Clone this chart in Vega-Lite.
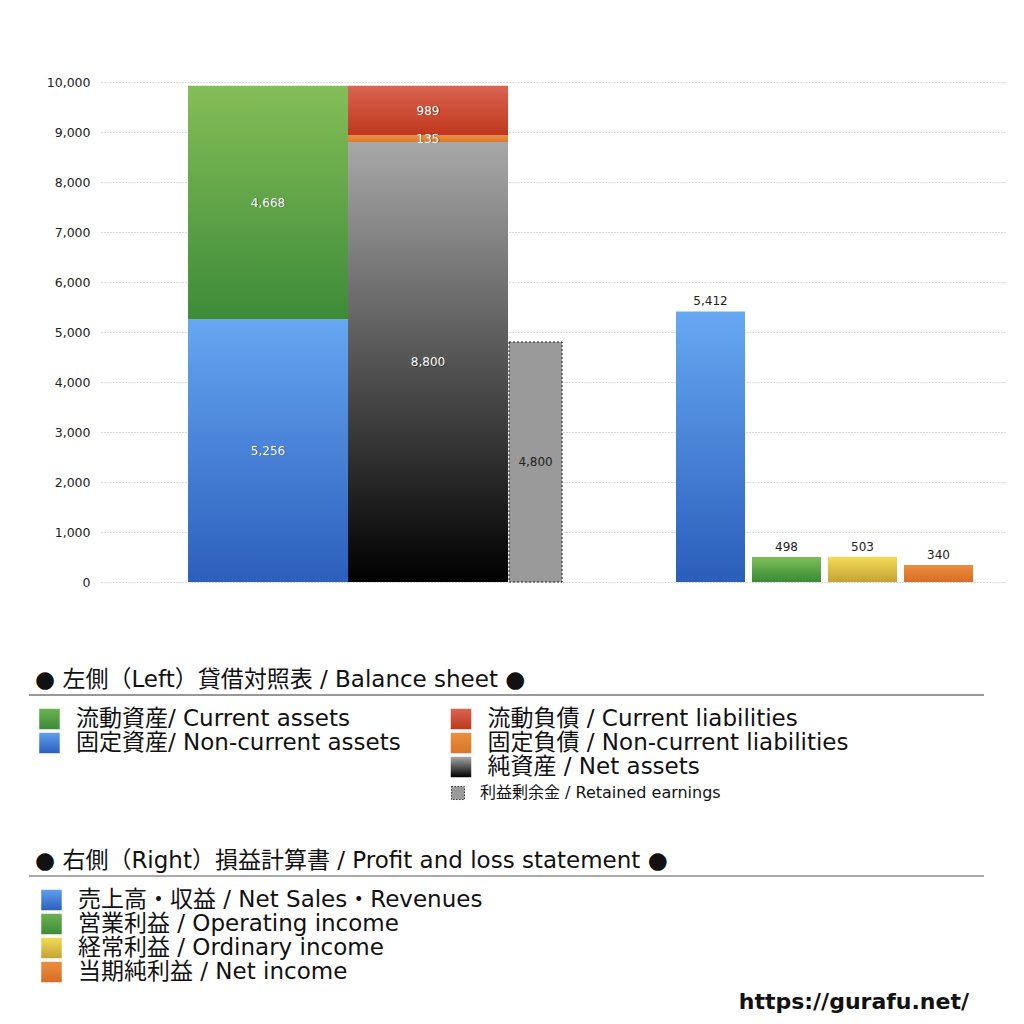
{
  "$schema": "https://vega.github.io/schema/vega-lite/v6.json",
  "description": "Balance sheet and profit and loss statement",
  "background": "white",
  "padding": {"left": 28, "top": 76, "right": 0, "bottom": 0},
  "spacing": 80,
  "title": {"text": "https://gurafu.net/", "orient": "bottom", "anchor": "end", "frame": "bounds", "fontSize": 22, "fontWeight": "bold", "font": "DejaVu Sans", "color": "#111", "dx": -37, "offset": 8},
  "datasets": {
    "bs": [
      {"bar": "資産", "item": "固定資産", "value": 5256},
      {"bar": "資産", "item": "流動資産", "value": 4668},
      {"bar": "負債・純資産", "item": "純資産", "value": 8800},
      {"bar": "負債・純資産", "item": "固定負債", "value": 135},
      {"bar": "負債・純資産", "item": "流動負債", "value": 989}
    ],
    "re": [{"bar": "利益剰余金", "item": "利益剰余金", "value": 4800}],
    "pl": [
      {"item": "売上高・収益", "value": 5412},
      {"item": "営業利益", "value": 498},
      {"item": "経常利益", "value": 503},
      {"item": "当期純利益", "value": 340}
    ],
    "leg1": [
      {"key": "流動資産", "col": 0, "row": 1, "label": "流動資産/ Current assets"},
      {"key": "固定資産", "col": 0, "row": 2, "label": "固定資産/ Non-current assets"},
      {"key": "流動負債", "col": 1, "row": 1, "label": "流動負債 /  Current liabilities"},
      {"key": "固定負債", "col": 1, "row": 2, "label": "固定負債 / Non-current liabilities"},
      {"key": "純資産", "col": 1, "row": 3, "label": "純資産 / Net assets"},
      {"key": "利益剰余金", "col": 1, "row": 4, "label": "利益剰余金 / Retained earnings"}
    ],
    "leg2": [
      {"key": "売上高・収益", "col": 0, "row": 1, "label": "売上高・収益 / Net Sales・Revenues"},
      {"key": "営業利益", "col": 0, "row": 2, "label": "営業利益 / Operating income"},
      {"key": "経常利益", "col": 0, "row": 3, "label": "経常利益 / Ordinary income"},
      {"key": "当期純利益", "col": 0, "row": 4, "label": "当期純利益 / Net income"}
    ]
  },
  "vconcat": [
    {
      "width": 905,
      "height": 500,
      "layer": [
        {
          "encoding": {
            "x": {"field": "bar", "type": "nominal", "sort": null, "axis": null,
              "scale": {"domain": ["資産", "負債・純資産", "利益剰余金", " ", "  "], "paddingInner": 0, "paddingOuter": 0.328, "align": 0.829}}
          },
          "layer": [
            {
              "data": {"name": "bs"},
              "transform": [
                {"stack": "value", "groupby": ["bar"], "as": ["y0", "y1"]},
                {"calculate": "(datum.y0 + datum.y1) / 2", "as": "mid"}
              ],
              "encoding": {
                "y": {"field": "y1", "type": "quantitative", "scale": {"domain": [0, 10000]}, "title": null},
                "y2": {"field": "y0"}
              },
              "layer": [
                {"transform": [{"filter": "datum.item === '固定資産'"}],
                  "mark": {"type": "bar", "fill": {"gradient": "linear", "x1": 0, "y1": 0, "x2": 0, "y2": 1, "stops": [{"offset": 0, "color": "#66a6f2"}, {"offset": 1, "color": "#2c5fbc"}]}}},
                {"transform": [{"filter": "datum.item === '流動資産'"}],
                  "mark": {"type": "bar", "fill": {"gradient": "linear", "x1": 0, "y1": 0, "x2": 0, "y2": 1, "stops": [{"offset": 0, "color": "#84be58"}, {"offset": 1, "color": "#3d8b38"}]}}},
                {"transform": [{"filter": "datum.item === '純資産'"}],
                  "mark": {"type": "bar", "fill": {"gradient": "linear", "x1": 0, "y1": 0, "x2": 0, "y2": 1, "stops": [{"offset": 0, "color": "#a8a8a8"}, {"offset": 1, "color": "#000000"}]}}},
                {"transform": [{"filter": "datum.item === '固定負債'"}],
                  "mark": {"type": "bar", "fill": {"gradient": "linear", "x1": 0, "y1": 0, "x2": 0, "y2": 1, "stops": [{"offset": 0, "color": "#ec903f"}, {"offset": 1, "color": "#dc7a30"}]}}},
                {"transform": [{"filter": "datum.item === '流動負債'"}],
                  "mark": {"type": "bar", "fill": {"gradient": "linear", "x1": 0, "y1": 0, "x2": 0, "y2": 1, "stops": [{"offset": 0, "color": "#da6451"}, {"offset": 1, "color": "#bf371d"}]}}},
                {"mark": {"type": "text", "fontSize": 12, "color": "#000", "opacity": 0.45, "dx": 0.8, "dy": 0.8},
                  "encoding": {
                    "y": {"field": "mid", "type": "quantitative", "scale": {"domain": [0, 10000]}, "title": null},
                    "y2": null,
                    "text": {"field": "value", "type": "quantitative", "format": ","}}},
                {"mark": {"type": "text", "fontSize": 12, "color": "#ffffff"},
                  "encoding": {
                    "y": {"field": "mid", "type": "quantitative", "scale": {"domain": [0, 10000]}, "title": null},
                    "y2": null,
                    "text": {"field": "value", "type": "quantitative", "format": ","}}}
              ]
            },
            {
              "data": {"name": "re"},
              "transform": [{"calculate": "datum.value / 2", "as": "mid"}],
              "encoding": {
                "x": {"field": "bar", "type": "nominal", "sort": null, "axis": null, "bandPosition": 0.172,
                  "scale": {"domain": ["資産", "負債・純資産", "利益剰余金", " ", "  "], "paddingInner": 0, "paddingOuter": 0.328, "align": 0.829}}
              },
              "layer": [
                {"mark": {"type": "bar", "width": 53, "xOffset": -52.5, "fill": "#9a9a9a", "stroke": "#1a1a1a", "strokeDash": [2, 2], "strokeWidth": 1},
                  "encoding": {"y": {"field": "value", "type": "quantitative", "scale": {"domain": [0, 10000]}, "title": null}}},
                {"mark": {"type": "text", "fontSize": 12, "color": "#222"},
                  "encoding": {
                    "y": {"field": "mid", "type": "quantitative", "scale": {"domain": [0, 10000]}, "title": null},
                    "text": {"field": "value", "type": "quantitative", "format": ","}}}
              ]
            }
          ]
        },
        {
          "data": {"name": "pl"},
          "encoding": {
            "x": {"field": "item", "type": "nominal", "sort": null, "axis": null,
              "scale": {"range": [575, 872], "paddingInner": 0.0921, "paddingOuter": 0}},
            "y": {"field": "value", "type": "quantitative", "stack": null, "scale": {"domain": [0, 10000]}, "title": null}
          },
          "layer": [
            {"transform": [{"filter": "datum.item === '売上高・収益'"}],
              "mark": {"type": "bar", "fill": {"gradient": "linear", "x1": 0, "y1": 0, "x2": 0, "y2": 1, "stops": [{"offset": 0, "color": "#67a8f3"}, {"offset": 1, "color": "#2b5eba"}]}}},
            {"transform": [{"filter": "datum.item === '営業利益'"}],
              "mark": {"type": "bar", "fill": {"gradient": "linear", "x1": 0, "y1": 0, "x2": 0, "y2": 1, "stops": [{"offset": 0, "color": "#7dbf56"}, {"offset": 1, "color": "#3a8a36"}]}}},
            {"transform": [{"filter": "datum.item === '経常利益'"}],
              "mark": {"type": "bar", "fill": {"gradient": "linear", "x1": 0, "y1": 0, "x2": 0, "y2": 1, "stops": [{"offset": 0, "color": "#f2dc57"}, {"offset": 1, "color": "#c4a234"}]}}},
            {"transform": [{"filter": "datum.item === '当期純利益'"}],
              "mark": {"type": "bar", "fill": {"gradient": "linear", "x1": 0, "y1": 0, "x2": 0, "y2": 1, "stops": [{"offset": 0, "color": "#eb8e3e"}, {"offset": 1, "color": "#d86c28"}]}}},
            {"mark": {"type": "text", "fontSize": 12, "color": "#222", "baseline": "bottom", "dy": -3},
              "encoding": {"text": {"field": "value", "type": "quantitative", "format": ","}}}
          ]
        }
      ],
      "resolve": {"scale": {"x": "independent"}}
    },
    {
      "spacing": 44,
      "vconcat": [
        {
          "width": 883,
          "height": 111,
          "title": {"text": "● 左側（Left）貸借対照表 / Balance sheet ●"},
          "data": {"name": "leg1"},
          "encoding": {
            "x": {"field": "col", "type": "quantitative",
              "scale": {"domain": [0.1252, 2.271], "nice": false, "zero": false}, "axis": null},
            "y": {"field": "row", "type": "quantitative",
              "scale": {"domain": [0, 4.625], "reverse": true, "nice": false, "zero": false}, "axis": null}
          },
          "layer": [
            {"transform": [{"filter": "datum.col === 0 && datum.row === 1"}],
              "mark": {"type": "rule", "stroke": "#333333", "strokeWidth": 1.2},
              "encoding": {
                "x": {"datum": -0.05, "type": "quantitative"},
                "x2": {"datum": 2.271},
                "y": {"datum": 0, "type": "quantitative"}}},
            {"transform": [{"filter": "datum.key === '流動資産'"}],
              "mark": {"type": "square", "size": 420, "opacity": 1, "fill": {"gradient": "linear", "x1": 0, "y1": 0, "x2": 0, "y2": 1, "stops": [{"offset": 0, "color": "#6cb250"}, {"offset": 1, "color": "#3d8b38"}]}}},
            {"transform": [{"filter": "datum.key === '固定資産'"}],
              "mark": {"type": "square", "size": 420, "opacity": 1, "fill": {"gradient": "linear", "x1": 0, "y1": 0, "x2": 0, "y2": 1, "stops": [{"offset": 0, "color": "#5f9fee"}, {"offset": 1, "color": "#2c5fbc"}]}}},
            {"transform": [{"filter": "datum.key === '流動負債'"}],
              "mark": {"type": "square", "size": 420, "opacity": 1, "fill": {"gradient": "linear", "x1": 0, "y1": 0, "x2": 0, "y2": 1, "stops": [{"offset": 0, "color": "#da6451"}, {"offset": 1, "color": "#bf371d"}]}}},
            {"transform": [{"filter": "datum.key === '固定負債'"}],
              "mark": {"type": "square", "size": 420, "opacity": 1, "fill": {"gradient": "linear", "x1": 0, "y1": 0, "x2": 0, "y2": 1, "stops": [{"offset": 0, "color": "#ec903f"}, {"offset": 1, "color": "#d8752c"}]}}},
            {"transform": [{"filter": "datum.key === '純資産'"}],
              "mark": {"type": "square", "size": 420, "opacity": 1, "fill": {"gradient": "linear", "x1": 0, "y1": 0, "x2": 0, "y2": 1, "stops": [{"offset": 0, "color": "#a8a8a8"}, {"offset": 1, "color": "#000000"}]}}},
            {"transform": [{"filter": "datum.key === '利益剰余金'"}],
              "mark": {"type": "square", "size": 170, "opacity": 1, "xOffset": -3, "yOffset": 2, "fill": "#9a9a9a", "stroke": "#333", "strokeDash": [1.5, 1.5], "strokeWidth": 1}},
            {"transform": [{"filter": "datum.row < 4"}],
              "mark": {"type": "text", "align": "left", "baseline": "middle", "dx": 26.5, "fontSize": 23, "color": "#111"},
              "encoding": {"text": {"field": "label"}}},
            {"transform": [{"filter": "datum.row === 4"}],
              "mark": {"type": "text", "align": "left", "baseline": "middle", "dx": 19, "dy": 2, "fontSize": 16, "color": "#111"},
              "encoding": {"text": {"field": "label"}}}
          ]
        },
        {
          "width": 883,
          "height": 108,
          "title": {"text": "● 右側（Right）損益計算書 / Profit and loss statement ●"},
          "data": {"name": "leg2"},
          "encoding": {
            "x": {"field": "col", "type": "quantitative",
              "scale": {"domain": [0.1252, 2.271], "nice": false, "zero": false}, "axis": null},
            "y": {"field": "row", "type": "quantitative",
              "scale": {"domain": [0, 4.5], "reverse": true, "nice": false, "zero": false}, "axis": null}
          },
          "layer": [
            {"transform": [{"filter": "datum.row === 1"}],
              "mark": {"type": "rule", "stroke": "#555555", "strokeWidth": 1.2},
              "encoding": {
                "x": {"datum": -0.05, "type": "quantitative"},
                "x2": {"datum": 2.271},
                "y": {"datum": 0, "type": "quantitative"}}},
            {"transform": [{"filter": "datum.key === '売上高・収益'"}],
              "mark": {"type": "square", "size": 420, "opacity": 1, "xOffset": 2, "fill": {"gradient": "linear", "x1": 0, "y1": 0, "x2": 0, "y2": 1, "stops": [{"offset": 0, "color": "#5f9fee"}, {"offset": 1, "color": "#2c5fbc"}]}}},
            {"transform": [{"filter": "datum.key === '営業利益'"}],
              "mark": {"type": "square", "size": 420, "opacity": 1, "xOffset": 2, "fill": {"gradient": "linear", "x1": 0, "y1": 0, "x2": 0, "y2": 1, "stops": [{"offset": 0, "color": "#6cb250"}, {"offset": 1, "color": "#3d8b38"}]}}},
            {"transform": [{"filter": "datum.key === '経常利益'"}],
              "mark": {"type": "square", "size": 420, "opacity": 1, "xOffset": 2, "fill": {"gradient": "linear", "x1": 0, "y1": 0, "x2": 0, "y2": 1, "stops": [{"offset": 0, "color": "#f2dc57"}, {"offset": 1, "color": "#c4a234"}]}}},
            {"transform": [{"filter": "datum.key === '当期純利益'"}],
              "mark": {"type": "square", "size": 420, "opacity": 1, "xOffset": 2, "fill": {"gradient": "linear", "x1": 0, "y1": 0, "x2": 0, "y2": 1, "stops": [{"offset": 0, "color": "#eb8e3e"}, {"offset": 1, "color": "#d86c28"}]}}},
            {"mark": {"type": "text", "align": "left", "baseline": "middle", "dx": 28.5, "fontSize": 23, "color": "#111"},
              "encoding": {"text": {"field": "label"}}}
          ]
        }
      ]
    }
  ],
  "config": {
    "view": {"stroke": null},
    "font": "DejaVu Sans, Noto Sans CJK JP",
    "text": {"font": "DejaVu Sans, Noto Sans CJK JP"},
    "axisY": {"labelFontSize": 12.5, "labelFont": "DejaVu Sans", "labelColor": "#222", "grid": true, "gridColor": "#b5b5b5", "gridDash": [1, 2], "gridWidth": 1, "domain": false, "ticks": false, "labelPadding": 11, "minExtent": 72, "title": null},
    "title": {"anchor": "start", "frame": "group", "fontSize": 23, "fontWeight": "normal", "color": "#111", "offset": 2, "dx": -66, "font": "DejaVu Sans, Noto Sans CJK JP"}
  }
}
